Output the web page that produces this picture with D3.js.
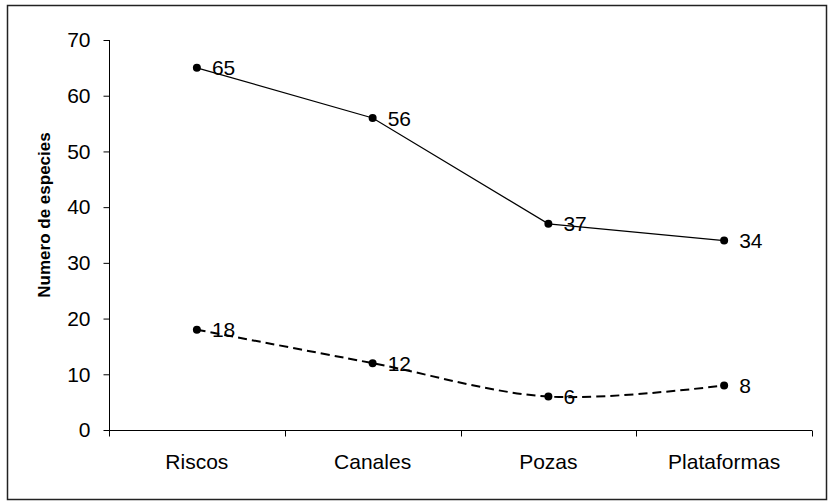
<!DOCTYPE html>
<html>
<head>
<meta charset="utf-8">
<script src="https://cdn.jsdelivr.net/npm/d3@7"></script>
<style>
  body { margin: 0; background: #fff; }
  text { font-family: "Liberation Sans", Arial, sans-serif; fill: #000; }
</style>
</head>
<body>
<svg id="chart" width="828" height="502"></svg>
<script>
// data
var categories = ["Riscos", "Canales", "Pozas", "Plataformas"]
var upper_values = [65, 56, 37, 34]
var lower_values = [18, 12, 6, 8]
var y_ticks = [0, 10, 20, 30, 40, 50, 60, 70]

var font_size = 21
var svg = d3.select("#chart")

// outer frame
svg.append("rect")
	.attr("x", 7.5).attr("y", 5.5)
	.attr("width", 819).attr("height", 494)
	.attr("fill", "none")
	.attr("stroke", "#222")
	.attr("stroke-width", 1.5)

var x = d3.scaleBand().domain(categories).range([109, 812])
var y = d3.scaleLinear().domain([0, 70]).range([430, 40])

// y axis
var y_axis = svg.append("g")
	.attr("transform", "translate(109.5,0)")
	.call(d3.axisLeft(y).tickValues(y_ticks).tickSize(6).tickSizeOuter(0).tickPadding(13))
y_axis.selectAll("text").attr("font-size", font_size).attr("font-family", "Liberation Sans, Arial, sans-serif")
y_axis.selectAll("line, path").attr("stroke", "#000")
y_axis.select(".domain").attr("d", "M0," + y(70) + "V" + y(0))

// x axis: line, ticks at band edges, labels at band centres
var x_axis = svg.append("g").attr("transform", "translate(0,430.5)")
x_axis.append("line")
	.attr("x1", x.range()[0]).attr("x2", x.range()[1])
	.attr("stroke", "#000")
var edges = categories.map(function(c) { return x(c) }).concat([x.range()[1]])
x_axis.selectAll(".xtick").data(edges).enter().append("line")
	.attr("class", "xtick")
	.attr("x1", function(d) { return Math.round(d) + 0.5 })
	.attr("x2", function(d) { return Math.round(d) + 0.5 })
	.attr("y1", 0).attr("y2", 6)
	.attr("stroke", "#000")
x_axis.selectAll(".xlabel").data(categories).enter().append("text")
	.attr("class", "xlabel")
	.attr("x", function(d) { return x(d) + x.bandwidth() / 2 })
	.attr("y", 38)
	.attr("text-anchor", "middle")
	.attr("font-size", font_size)
	.text(function(d) { return d })

// y axis title
svg.append("text")
	.attr("transform", "translate(50,215) rotate(-90)")
	.attr("text-anchor", "middle")
	.attr("font-size", 17)
	.attr("font-weight", "bold")
	.text("Numero de especies")

function cx(d, i) { return x(categories[i]) + x.bandwidth() / 2 }

function draw_series(values, curve, width, dash) {
	var line = d3.line()
		.x(function(d, i) { return cx(d, i) })
		.y(function(d) { return y(d) })
		.curve(curve)

	svg.append("path")
		.datum(values)
		.attr("d", line)
		.attr("fill", "none")
		.attr("stroke", "#000")
		.attr("stroke-width", width)
		.attr("stroke-dasharray", dash)

	svg.selectAll(null).data(values).enter().append("circle")
		.attr("cx", cx)
		.attr("cy", function(d) { return y(d) })
		.attr("r", 4)
		.attr("fill", "#000")

	svg.selectAll(null).data(values).enter().append("text")
		.attr("x", function(d, i) { return cx(d, i) + 15 })
		.attr("y", function(d) { return y(d) })
		.attr("dy", "0.36em")
		.attr("font-size", font_size)
		.text(function(d) { return d })
}

draw_series(upper_values, d3.curveLinear, 1.2, null)
draw_series(lower_values, d3.curveCatmullRom.alpha(0), 2, "9,5")
</script>
</body>
</html>
